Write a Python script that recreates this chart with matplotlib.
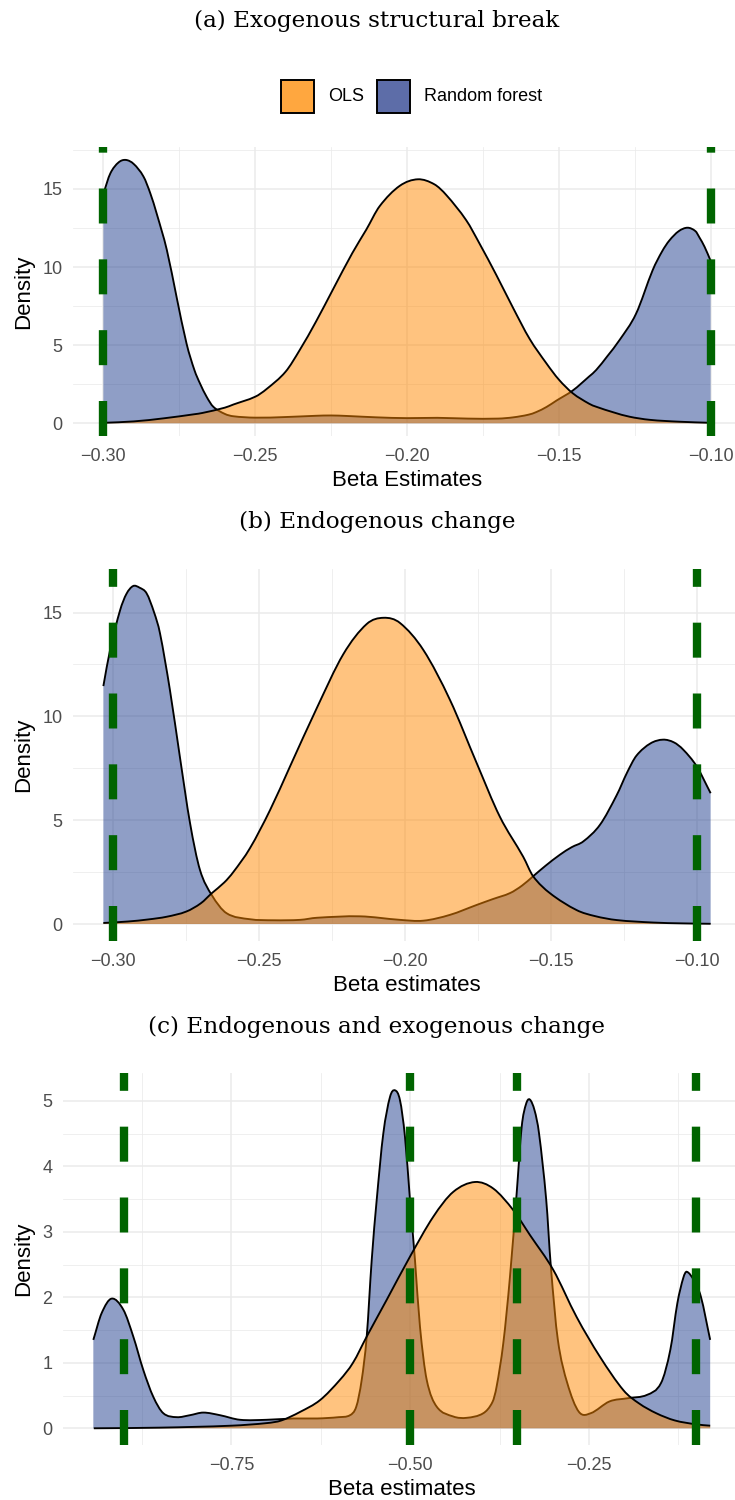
import matplotlib
matplotlib.use("Agg")
import matplotlib.pyplot as plt
from matplotlib.patches import Rectangle, PathPatch
from matplotlib.path import Path
from matplotlib.ticker import MultipleLocator, FuncFormatter

plt.rcParams['font.family'] = ['Liberation Sans', 'DejaVu Sans']

# ---------------- data ----------------
titles = ["(a) Exogenous structural break", "(b) Endogenous change",
          "(c) Endogenous and exogenous change"]
xlabels = ["Beta Estimates", "Beta estimates", "Beta estimates"]
series_names = ["OLS", "Random forest"]

# Panel a
a_rf_x = [-0.300, -0.2977, -0.2950, -0.2926, -0.2900, -0.2868, -0.2845, -0.2824, -0.2791,
          -0.2759, -0.2726, -0.2700, -0.2682, -0.2660, -0.2638, -0.2600, -0.2572, -0.2500,
          -0.2400, -0.2300, -0.2250, -0.2200, -0.2100, -0.2000, -0.1900, -0.1800, -0.1700,
          -0.1650, -0.1600, -0.1574, -0.1540, -0.1508, -0.1454, -0.1400, -0.1377, -0.1340,
          -0.1300, -0.1246, -0.1191, -0.1160, -0.1136, -0.1105, -0.1076, -0.1050, -0.1037,
          -0.1020, -0.1000]
a_rf_y = [14.7, 16.0, 16.7, 16.86, 16.6, 15.8, 14.7, 13.4, 11.1, 8.1, 5.1, 3.4, 2.56, 1.7,
          1.06, 0.6, 0.45, 0.36, 0.4, 0.48, 0.5, 0.47, 0.38, 0.33, 0.35, 0.3, 0.3, 0.38, 0.55,
          0.72, 1.05, 1.45, 2.1, 3.0, 3.41, 4.3, 5.33, 7.0, 9.8, 11.0, 11.7, 12.3, 12.52, 12.3,
          11.9, 11.3, 10.4]
a_ols_x = [-0.300, -0.290, -0.280, -0.2700, -0.2674, -0.2600, -0.2572, -0.2500, -0.2462,
           -0.2400, -0.2353, -0.2300, -0.2243, -0.2180, -0.2134, -0.2090, -0.2024, -0.1964,
           -0.1910, -0.1870, -0.1805, -0.1761, -0.1706, -0.1651, -0.1596, -0.1541, -0.1500,
           -0.1454, -0.1400, -0.1377, -0.1320, -0.1267, -0.1200, -0.1103, -0.1000]
a_ols_y = [0.03, 0.12, 0.32, 0.58, 0.66, 1.0, 1.2, 1.7, 2.2, 3.3, 4.7, 6.5, 8.6, 10.9, 12.4,
           13.9, 15.2, 15.62, 15.3, 14.6, 13.0, 11.5, 9.5, 7.4, 5.4, 3.84, 2.8, 1.92, 1.25,
           1.06, 0.7, 0.42, 0.22, 0.1, 0.03]

# Panel b
b_rf_x = [-0.3034, -0.3011, -0.2977, -0.2955, -0.2932, -0.2910, -0.2886, -0.2860, -0.2840,
          -0.2806, -0.2772, -0.2737, -0.2703, -0.2663, -0.2612, -0.2532, -0.2450, -0.2360,
          -0.2303, -0.2155, -0.2018, -0.1938, -0.1847, -0.1755, -0.1700, -0.1641, -0.1600,
          -0.1562, -0.1520, -0.1470, -0.1430, -0.1390, -0.1333, -0.1276, -0.1240, -0.1208,
          -0.1160, -0.1117, -0.1080, -0.1048, -0.1002, -0.0954]
b_rf_y = [11.46, 13.2, 15.1, 15.9, 16.28, 16.2, 15.93, 15.0, 14.0, 11.27, 8.06, 4.85, 2.6,
          1.4, 0.52, 0.23, 0.18, 0.2, 0.3, 0.37, 0.2, 0.16, 0.44, 0.92, 1.2, 1.49, 1.85, 2.3,
          2.8, 3.34, 3.7, 3.98, 4.78, 6.2, 7.3, 8.11, 8.7, 8.88, 8.75, 8.4, 7.6, 6.3]
b_ols_x = [-0.3034, -0.2950, -0.2880, -0.2817, -0.2750, -0.2700, -0.2663, -0.2620, -0.2589,
           -0.2532, -0.2463, -0.2395, -0.2303, -0.2212, -0.2132, -0.2074, -0.2018, -0.1938,
           -0.1847, -0.1755, -0.1676, -0.1596, -0.1562, -0.1504, -0.1413, -0.1350, -0.1276,
           -0.1150, -0.1050, -0.0954]
b_ols_y = [0.05, 0.12, 0.22, 0.35, 0.6, 1.0, 1.48, 2.0, 2.5, 3.65, 5.49, 7.58, 10.4, 13.0,
           14.45, 14.75, 14.5, 13.2, 10.8, 7.74, 5.17, 3.24, 2.3, 1.48, 0.67, 0.38, 0.19,
           0.07, 0.03, 0.01]

# Panel c
c_rf_x = [-0.9431, -0.9314, -0.9174, -0.9011, -0.8872, -0.8732, -0.8592, -0.8452, -0.8265,
          -0.8080, -0.7893, -0.7660, -0.7380, -0.7007, -0.6634, -0.6300, -0.6000, -0.5842,
          -0.5754, -0.5678, -0.5608, -0.5538, -0.5468, -0.5376, -0.5282, -0.5213, -0.5143,
          -0.5073, -0.5003, -0.4933, -0.4863, -0.4769, -0.4629, -0.4397, -0.4210, -0.3978,
          -0.3850, -0.3791, -0.3698, -0.3605, -0.3511, -0.3441, -0.3380, -0.3328, -0.3260,
          -0.3198, -0.3098, -0.3033, -0.2935, -0.2803, -0.2640, -0.2476, -0.2213, -0.1952,
          -0.1689, -0.1493, -0.1362, -0.1264, -0.1180, -0.1133, -0.1033, -0.0935, -0.0805]
c_rf_y = [1.35, 1.76, 1.98, 1.81, 1.40, 0.89, 0.48, 0.23, 0.17, 0.2, 0.24, 0.2, 0.13, 0.13,
          0.15, 0.15, 0.17, 0.2, 0.33, 0.74, 1.40, 2.57, 3.49, 4.5, 5.06, 5.16, 5.01, 4.45,
          3.49, 2.57, 1.55, 0.74, 0.33, 0.18, 0.16, 0.23, 0.4, 0.64, 1.3, 2.31, 3.59, 4.6,
          4.95, 5.02, 4.85, 4.5, 3.49, 2.47, 1.35, 0.69, 0.25, 0.23, 0.41, 0.46, 0.51, 0.69,
          1.2, 1.91, 2.3, 2.39, 2.26, 2.01, 1.35]
c_ols_x = [-0.9424, -0.8500, -0.7500, -0.7000, -0.6800, -0.6540, -0.6261, -0.5982, -0.5800,
           -0.5608, -0.5329, -0.5003, -0.4677, -0.4397, -0.4094, -0.3838, -0.3558, -0.3325,
           -0.3000, -0.2673, -0.2345, -0.2017, -0.1800, -0.1559, -0.1300, -0.1000, -0.0805]
c_ols_y = [0.0, 0.01, 0.04, 0.08, 0.12, 0.25, 0.43, 0.74, 1.0, 1.40, 1.96, 2.62, 3.23, 3.61,
           3.76, 3.66, 3.33, 2.95, 2.42, 1.70, 1.09, 0.58, 0.38, 0.23, 0.12, 0.06, 0.04]

# true parameter values (green dashed lines)
a_vlines = [-0.30, -0.10]
b_vlines = [-0.30, -0.10]
c_vlines = [-0.90, -0.50, -0.35, -0.10]

# axis settings
a_xticks = [-0.30, -0.25, -0.20, -0.15, -0.10]
a_yticks = [0, 5, 10, 15]
c_xticks = [-0.75, -0.50, -0.25]
c_yticks = [0, 1, 2, 3, 4, 5]

# ---------------- style ----------------
W, H = 735, 1500
RF_COL = '#203F8E'
OLS_COL = '#FF8900'
RF_KEY = '#5D6DA8'
OLS_KEY = '#FFA73F'
GREEN = '#006400'
GRID = '#EBEBEB'
TICK_COL = '#4D4D4D'

fig = plt.figure(figsize=(W / 100, H / 100), dpi=100)


def add_px_axes(left, right, top, bottom):
    return fig.add_axes([left / W, 1 - bottom / H, (right - left) / W, (bottom - top) / H])


def smooth_curve(x, y):
    """Cubic Hermite Bezier segments through the read points (drawing only)."""
    n = len(x)
    m = []
    for i in range(n):
        j0 = max(i - 1, 0)
        j1 = min(i + 1, n - 1)
        m.append((y[j1] - y[j0]) / (x[j1] - x[j0]))
    verts = [(x[0], y[0])]
    codes = [Path.MOVETO]
    for i in range(n - 1):
        h = x[i + 1] - x[i]
        c1 = (x[i] + h / 3, y[i] + m[i] * h / 3)
        c2 = (x[i + 1] - h / 3, y[i + 1] - m[i + 1] * h / 3)
        verts += [c1, c2, (x[i + 1], y[i + 1])]
        codes += [Path.CURVE4] * 3
    return verts, codes


def draw_density(ax, x, y, fill_col, z):
    verts, codes = smooth_curve(x, y)
    fv = verts + [(x[-1], 0), (x[0], 0), (x[0], y[0])]
    fc = codes + [Path.LINETO, Path.LINETO, Path.CLOSEPOLY]
    ax.add_patch(PathPatch(Path(fv, fc), facecolor=fill_col, alpha=0.5, lw=0, zorder=z))
    ax.add_patch(PathPatch(Path(verts, codes), facecolor='none', edgecolor='black',
                           lw=1.35, zorder=z + 0.05, capstyle='butt'))


panels = [
    dict(box=(73, 741, 146.8, 436.4), xlim=(-0.31, -0.09), ylim=(-0.84, 17.7),
         rf=(a_rf_x, a_rf_y), ols=(a_ols_x, a_ols_y), vl=a_vlines,
         xt=a_xticks, xminor=0.025, yt=a_yticks, yminor=2.5),
    dict(box=(73, 741, 569.2, 940.9), xlim=(-0.3138, -0.0850), ylim=(-0.814, 17.09),
         rf=(b_rf_x, b_rf_y), ols=(b_ols_x, b_ols_y), vl=b_vlines,
         xt=a_xticks, xminor=0.025, yt=a_yticks, yminor=2.5),
    dict(box=(63, 741, 1072.6, 1445.2), xlim=(-0.9855, -0.0374), ylim=(-0.258, 5.43),
         rf=(c_rf_x, c_rf_y), ols=(c_ols_x, c_ols_y), vl=c_vlines,
         xt=c_xticks, xminor=0.125, yt=c_yticks, yminor=0.5),
]

title_base = [27, 528, 1033]

xfmt = FuncFormatter(lambda v, p: f"{v:.2f}".replace('-', '\u2212'))
yfmt = FuncFormatter(lambda v, p: f"{v:g}")

for i, p in enumerate(panels):
    l, r, t, b = p['box']
    ax = add_px_axes(l, r, t, b)
    ax.set_xlim(*p['xlim'])
    ax.set_ylim(*p['ylim'])
    for s in ax.spines.values():
        s.set_visible(False)
    ax.set_xticks(p['xt'])
    ax.set_yticks(p['yt'])
    ax.xaxis.set_minor_locator(MultipleLocator(p['xminor']))
    ax.yaxis.set_minor_locator(MultipleLocator(p['yminor']))
    ax.xaxis.set_major_formatter(xfmt)
    ax.yaxis.set_major_formatter(yfmt)
    ax.grid(which='major', color=GRID, lw=1.1)
    ax.grid(which='minor', color=GRID, lw=0.55)
    ax.set_axisbelow(True)
    ax.tick_params(which='both', length=0, labelsize=13, labelcolor=TICK_COL)
    ax.tick_params(axis='x', pad=8.5)
    ax.tick_params(axis='y', pad=7.5)

    rx, ry = p['rf']
    ox, oy = p['ols']
    draw_density(ax, rx, ry, RF_COL, 2)
    draw_density(ax, ox, oy, OLS_COL, 2.2)
    for v in p['vl']:
        ax.axvline(v, color=GREEN, lw=6, dashes=(4.2, 4.3), zorder=3)

    cx = (l + r) / 2
    fig.text(cx / W, 1 - (b + 50) / H, xlabels[i], fontsize=16, ha='center', va='baseline')
    fig.text(24 / W, 1 - ((t + b) / 2) / H, "Density", fontsize=16, rotation=90,
             ha='center', va='center')

# titles (serif), sized to match reference width
ttl = []
for i, s in enumerate(titles):
    ttl.append(fig.text(377 / W, 1 - title_base[i] / H, s, family='DejaVu Serif', fontsize=17,
                        ha='center', va='baseline'))
fig.canvas.draw()
wpx = ttl[0].get_window_extent().width
fs = 17 * 365 / wpx
for t_ in ttl:
    t_.set_fontsize(fs)

# legend
for (x0, col, name, tx) in [(281, OLS_KEY, series_names[0], 328), (377, RF_KEY, series_names[1], 424)]:
    fig.add_artist(Rectangle((x0 / W, 1 - 113 / H), 33 / W, 33 / H, transform=fig.transFigure,
                             facecolor=col, edgecolor='black', lw=1.4))
    fig.text(tx / W, 1 - 96.5 / H, name, fontsize=13, ha='left', va='center')

fig.savefig("out.png", dpi=100)
